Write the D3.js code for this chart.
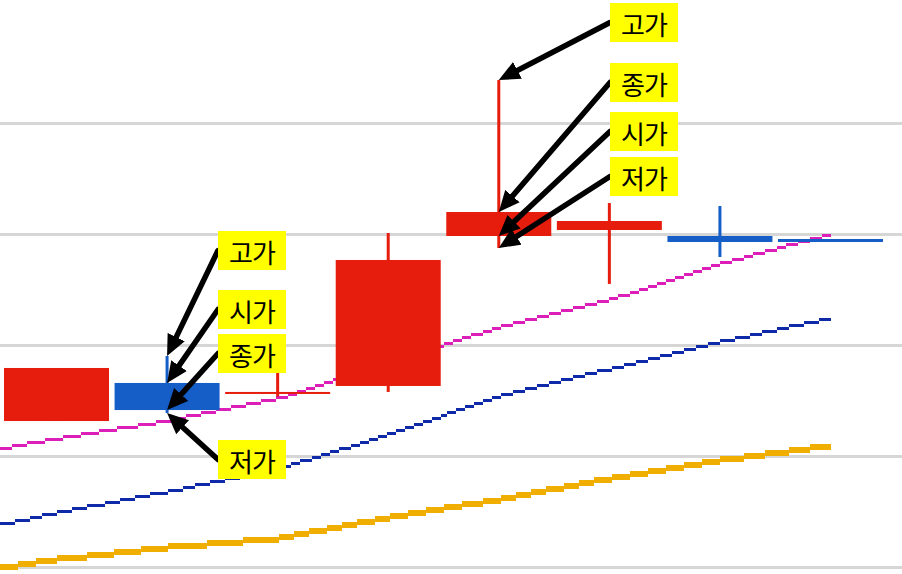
<!DOCTYPE html>
<html><head><meta charset="utf-8">
<script src="https://cdn.jsdelivr.net/npm/d3@7"></script>
<style>html,body{margin:0;padding:0;background:#fff;overflow:hidden}</style>
</head><body>
<svg id="chart" width="902" height="574"></svg>
<script>
// ---------- data ----------
const days   = ["D1","D2","D3","D4","D5","D6","D7","D8"];
const openP  = [1131.5,1165.8,1155.9,1163.1,1298.2,1303.6,1298.2,1295.5];
const highP  = [1179.3,1190.1,1174.8,1300.9,1438.7,1327.9,1325.2,1295.5];
const lowP   = [1131.5,1138.7,1153.6,1157.7,1287.4,1255.0,1279.3,1292.8];
const closeP = [1179.3,1141.4,1157.7,1276.6,1319.8,1311.7,1292.8,1292.8];

const maIndex = [-1,0,1,2,3,4,5,6,7];
const ma5  = [1097.7,1115.3,1131.5,1151.4,1183.3,1215.9,1240.3,1272.7,1299.7];
const ma20 = [1027.4,1048.6,1067.6,1088.0,1118.9,1153.8,1178.1,1202.4,1224.1];
const ma60 = [ 991.9,1006.6,1017.4,1025.5,1044.4,1060.6,1079.5,1095.8,1109.3];

const gridTicks = [1000,1100,1200,1300,1400];

const noteDay   = [1,1,1,1,4,4,4,4];
const noteField = ["high","open","close","low","high","close","open","low"];
const noteText  = ["고가","시가","종가","저가","고가","종가","시가","저가"];

// ---------- layout ----------
const W = 902, H = 574;
const boxLeft = [218,218,218,218,610,610,610,610];
const boxTop  = [231,290,334,440,3,63,112,157];
const boxW = 68, boxH = 39;
const bodyW = 105;
const colors = {up:"#e61c0c", down:"#155ec8", ma5:"#dc1fb9", ma20:"#0f2aa8", ma60:"#f0ae00", grid:"#d6d6d6"};

const svg = d3.select("#chart");
const x = d3.scaleLinear().domain([0,7]).range([56.5,830.5]);
const y = d3.scaleLinear().domain([1000,1400]).range([567,123]);

// gridlines
svg.append("g").selectAll("line").data(gridTicks).join("line")
  .attr("x1",0).attr("x2",W)
  .attr("y1",d=>y(d)).attr("y2",d=>y(d))
  .attr("stroke",colors.grid).attr("stroke-width",3).attr("shape-rendering","crispEdges");

// pixel-stair curve (emulates aliased low-res rendering)
function pixelCurve(cell, width) {
  return function(context) {
    let pts;
    return {
      areaStart(){}, areaEnd(){},
      lineStart(){ pts = []; },
      point(px,py){ pts.push([+px,+py]); },
      lineEnd(){
        if (pts.length < 2) return;
        const c0 = Math.floor(pts[0][0]/cell), c1 = Math.floor(pts[pts.length-1][0]/cell);
        let runStart = null, runRow = null, seg = 0;
        const flush = (cEnd) => {
          if (runStart !== null) {
            const yy = runRow*cell + width/2;
            context.moveTo(runStart*cell, yy);
            context.lineTo((cEnd+1)*cell, yy);
          }
        };
        for (let c = c0; c <= c1; c++) {
          const xc = (c+0.5)*cell;
          while (seg < pts.length-2 && xc > pts[seg+1][0]) seg++;
          const [xa,ya] = pts[seg], [xb,yb] = pts[seg+1];
          let t = (xc-xa)/(xb-xa); t = Math.max(0, Math.min(1, t));
          const yv = ya + (yb-ya)*t;
          const row = Math.round((yv - width/2)/cell);
          if (row !== runRow) { flush(c-1); runStart = c; runRow = row; }
        }
        flush(c1);
      }
    };
  };
}

const maSeries = [
  {vals: ma60, color: colors.ma60, w: 6},
  {vals: ma20, color: colors.ma20, w: 3},
  {vals: ma5,  color: colors.ma5,  w: 3}
];
maSeries.forEach(s => {
  const line = d3.line().x((d,i)=>x(maIndex[i])).y(d=>y(d)).curve(pixelCurve(3, s.w));
  svg.append("path").attr("d", line(s.vals))
    .attr("fill","none").attr("stroke",s.color).attr("stroke-width",s.w)
    .attr("stroke-linecap","butt").attr("shape-rendering","crispEdges");
});

// candles
const candles = days.map((d,i)=>({i, o:openP[i], h:highP[i], l:lowP[i], c:closeP[i]}));
const cg = svg.append("g").selectAll("g").data(candles).join("g");
cg.append("line")
  .attr("x1",d=>x(d.i)).attr("x2",d=>x(d.i))
  .attr("y1",d=>y(d.h)).attr("y2",d=>y(d.l))
  .attr("stroke",d=>d.c>=d.o?colors.up:colors.down).attr("stroke-width",3);
cg.append("rect")
  .attr("x",d=>x(d.i)-bodyW/2).attr("width",bodyW)
  .attr("y",d=>y(Math.max(d.o,d.c)))
  .attr("height",d=>Math.max(2, Math.abs(y(d.o)-y(d.c))))
  .attr("fill",d=>d.c>=d.o?colors.up:colors.down);

// arrows
const defs = svg.append("defs");
defs.append("marker").attr("id","ah").attr("markerUnits","userSpaceOnUse")
  .attr("viewBox","0 -10 22 20").attr("markerWidth",22).attr("markerHeight",20)
  .attr("refX",10).attr("refY",0).attr("orient","auto")
  .append("path").attr("d","M0,-9.5L21,0L0,9.5Z").attr("fill","#000");

const notes = noteDay.map((d,i)=>{
  const c = candles[d];
  const val = {high:c.h, low:c.l, open:c.o, close:c.c}[noteField[i]];
  const sx = boxLeft[i], sy = boxTop[i] + boxH/2;
  const tx = x(d), ty = y(val);
  const dx = tx-sx, dy = ty-sy, len = Math.hypot(dx,dy);
  return {sx, sy, ex: tx - dx/len*11, ey: ty - dy/len*11, text: noteText[i], bx: boxLeft[i], by: boxTop[i]};
});
svg.append("g").selectAll("line").data(notes).join("line")
  .attr("x1",d=>d.sx).attr("y1",d=>d.sy).attr("x2",d=>d.ex).attr("y2",d=>d.ey)
  .attr("stroke","#000").attr("stroke-width",5.5).attr("stroke-linecap","round")
  .attr("marker-end","url(#ah)");

const lg = svg.append("g").selectAll("g").data(notes).join("g");
lg.append("rect").attr("x",d=>d.bx).attr("y",d=>d.by).attr("width",boxW).attr("height",boxH).attr("fill","#ffff00");
lg.append("text").attr("x",d=>d.bx+boxW/2).attr("y",d=>d.by+boxH/2+1)
  .attr("text-anchor","middle").attr("dominant-baseline","central")
  .attr("font-family","'Noto Sans CJK KR','Noto Sans',sans-serif").attr("font-size",26)
  .attr("letter-spacing",-1)
  .attr("fill","#000").text(d=>d.text);
</script>
</body></html>
